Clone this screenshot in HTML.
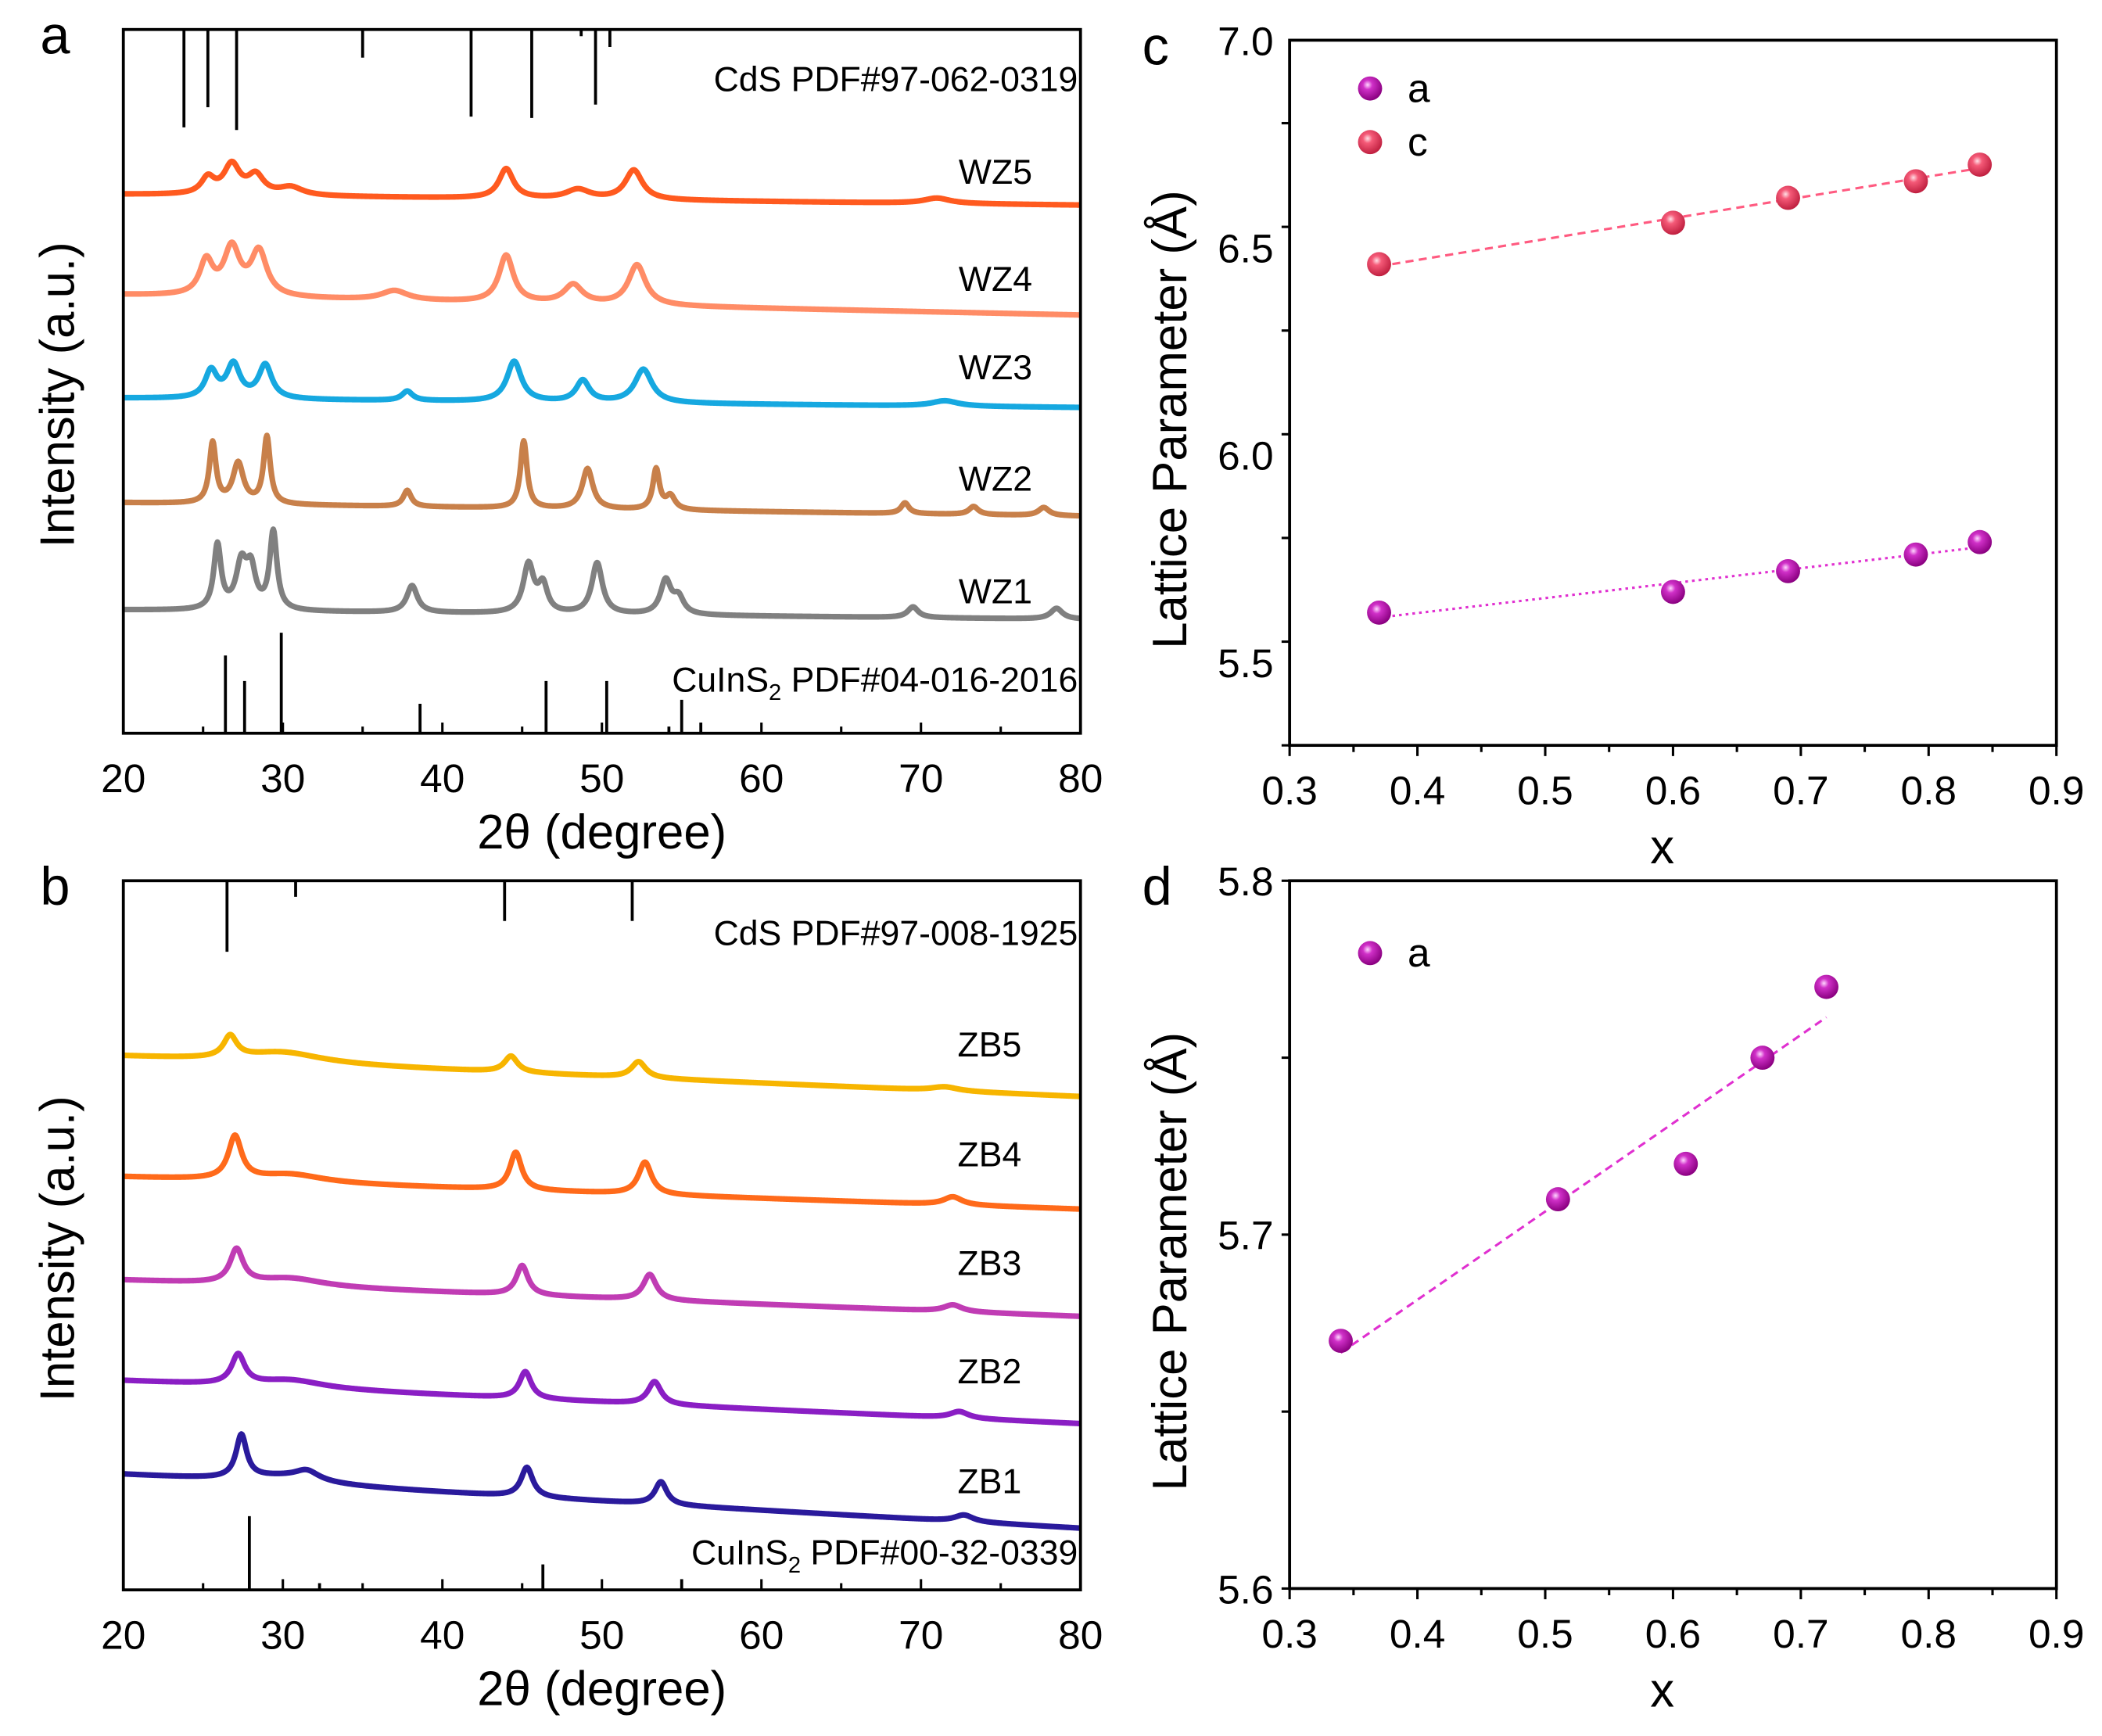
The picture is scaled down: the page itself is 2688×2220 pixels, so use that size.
<!DOCTYPE html>
<html><head><meta charset="utf-8"><style>
html,body{margin:0;padding:0;background:#fff;}
svg{display:block;font-family:"Liberation Sans",sans-serif;}
</style></head><body>
<svg id="fig" width="2688" height="2220" viewBox="0 0 1568 1295" preserveAspectRatio="none" xmlns="http://www.w3.org/2000/svg">
<defs>
<radialGradient id="gA" cx="0.4" cy="0.35" r="0.65"><stop offset="0" stop-color="#ffd8ff"/><stop offset="0.3" stop-color="#d030c8"/><stop offset="1" stop-color="#8a0080"/></radialGradient>
<radialGradient id="gC" cx="0.4" cy="0.35" r="0.65"><stop offset="0" stop-color="#ffe0e6"/><stop offset="0.3" stop-color="#f55a78"/><stop offset="1" stop-color="#c02040"/></radialGradient>
</defs>
</svg>
<script>
// ---------- DATA ----------
const wzNames=["WZ5","WZ4","WZ3","WZ2","WZ1"];
const wzColors=["#ff5a1f","#ff8c66","#16a8e0","#c8804a","#808080"];
const wzBase=[[145,153],[220,235],[297,304],[375,385],[455,462]];
const wzLabelY=[137,217,283,366,450];
const wzPeaks=[
 [[25.3,12,1],[26.8,22,1.2],[28.3,14,1.2],[30.5,6,1.8],[44,22,1.1],[48.5,7,1.8],[52,22,1.3],[71,4,2]],
 [[25.2,25,1],[26.8,35,1.2],[28.5,33,1.2],[37,7,2],[44,35,1.1],[48.2,14,1.4],[52.2,30,1.3]],
 [[25.5,20,0.9],[26.9,25,1],[28.9,25,1],[37.8,7,0.8],[44.5,30,1.1],[48.8,16,1],[52.6,25,1.3],[71.5,4,2]],
 [[25.6,45,0.5],[27.2,30,0.8],[29,50,0.5],[37.8,12,0.6],[45.1,50,0.5],[49.1,30,0.8],[53.4,30,0.5],[54.3,10,0.7],[69,8,0.6],[73.3,6,0.7],[77.7,6,0.8]],
 [[25.9,48,0.55],[27.4,33,0.8],[28,28,0.7],[29.4,58,0.55],[38.1,20,0.8],[45.4,36,0.8],[46.3,20,0.7],[49.7,38,0.8],[54,25,0.8],[54.8,12,0.8],[69.5,8,0.8],[78.5,8,0.9]]
];
const zbNames=["ZB5","ZB4","ZB3","ZB2","ZB1"];
const zbColors=["#f7b500","#ff6a1a","#c03cb4","#8a1ec4","#2a1a9c"];
const zbBase=[[788,818],[878,902],[955,982],[1030,1062],[1100,1140]];
const zbLabelY=[788,870,951,1032,1114];
const zbPeaks=[
 [[26.7,16,1],[30,8,6],[44.3,12,1],[52.3,12,1.1],[71.5,3,2]],
 [[27,32,1],[30.5,6,5],[44.6,28,0.9],[52.7,24,1],[72,6,1.4]],
 [[27.1,25,1],[30.5,6,5],[45,22,0.9],[53,19,1],[72,5,1.4]],
 [[27.2,22,1],[30.5,6,5],[45.2,20,0.9],[53.3,17,1],[72.4,5,1.4]],
 [[27.4,32,0.8],[31.5,7,1.8],[30,5,6],[45.3,22,0.9],[53.7,17,0.9],[72.7,5,1.4]]
];
const cdsWZ=[[23.8,73],[25.3,58],[27.1,75],[35,21],[41.8,65],[45.6,66],[48.7,5],[49.6,56],[50.5,13]];
const cisA=[[26.4,58],[27.6,39],[29.9,75],[38.6,22],[46.5,39],[50.3,39],[54.2,5],[55,25],[56.2,8]];
const cdsZB=[[26.5,53],[30.8,12],[43.9,30],[51.9,30]];
const cisB=[[27.9,55],[32.3,5],[46.3,19],[55,8]];
const xTicksXRD=[20,30,40,50,60,70,80];
const cX=[0.37,0.60,0.69,0.79,0.84];
const cA=[5.62,5.67,5.72,5.76,5.79];
const cC=[6.46,6.56,6.62,6.66,6.70];
const dX=[0.34,0.51,0.61,0.67,0.72];
const dA=[5.67,5.71,5.72,5.75,5.77];
const latXTicks=[0.3,0.4,0.5,0.6,0.7,0.8,0.9];
const cYTicks=[5.5,6.0,6.5,7.0];
const dYTicks=[5.6,5.7,5.8];

// ---------- HELPERS ----------
const NS="http://www.w3.org/2000/svg";
const svg=document.getElementById('fig');
function mk(tag,attrs,parent){const e=document.createElementNS(NS,tag);for(const k in attrs)e.setAttribute(k,attrs[k]);(parent||svg).appendChild(e);return e;}
function txt(s,x,y,size,anchor,parent,extra){const t=mk('text',Object.assign({x:x,y:y,'font-size':size,'text-anchor':anchor||'start',fill:'#000'},extra||{}),parent);t.textContent=s;return t;}

function xrdPanel(P,names,colors,bases,labelY,peaks,topSticks,botSticks,topLabel,botLabel,letter,tag){
  const g=mk('g',{});
  
  
  const sx=v=>P.x0+(v-20)/60*(P.x1-P.x0);
  names.forEach((n,i)=>{
    let d='';
    for(let k=0;k<=1200;k++){
      const t=20+k*0.05;
      let y=bases[i][0]+(bases[i][1]-bases[i][0])*(t-20)/60;
      peaks[i].forEach(p=>{y-=p[1]/(1+Math.pow((t-p[0])/(p[2]/2),2));});
      d+=(k?'L':'M')+sx(t).toFixed(2)+' '+y.toFixed(2);
    }
    const c=mk('path',{d:d,fill:'none',stroke:colors[i],'stroke-width':4.2,'stroke-linejoin':'round'},g);
    
    
    const l=txt(n,P.labelX,labelY[i],26,'end',g);
    
    
  });
  topSticks.forEach(s=>{const e=mk('line',{x1:sx(s[0]),x2:sx(s[0]),y1:P.y0,y2:P.y0+s[1],stroke:'#000','stroke-width':2.2},g);
    });
  botSticks.forEach(s=>{const e=mk('line',{x1:sx(s[0]),x2:sx(s[0]),y1:P.y1,y2:P.y1-s[1],stroke:'#000','stroke-width':2.2},g);
    });
  const tl=txt(topLabel,P.x1-2,P.topLabelY,26,'end',g);
  
  const bl=mk('text',{x:P.x1-2,y:P.botLabelY,'font-size':26,'text-anchor':'end',fill:'#000'},g);
  bl.innerHTML='CuInS<tspan font-size="17" dy="6">2</tspan><tspan dy="-6"> '+botLabel+'</tspan>';
  
  const fr=mk('rect',{x:P.x0,y:P.y0,width:P.x1-P.x0,height:P.y1-P.y0,fill:'none',stroke:'#000','stroke-width':2.2},g);
  
  for(let v=20;v<=80;v+=5){const major=v%10===0;mk('line',{x1:sx(v),x2:sx(v),y1:P.y1,y2:P.y1-(major?8:5),stroke:'#000','stroke-width':1.8},g);}
  xTicksXRD.forEach(v=>{const t=txt(String(v),sx(v),P.y1+44,30,'middle',g);});
  const xt=txt('2θ (degree)',(P.x0+P.x1)/2,P.y1+86,36,'middle',g);
  
  const cy=(P.y0+P.y1)/2+10;
  const yt=txt('Intensity (a.u.)',55,cy,36,'middle',g,{transform:'rotate(-90 55 '+cy+')'});
  
  const lt=txt(letter,30,P.y0+18,40,'start',g);
  
}

function latPanel(P,letter,yTicks,series,legendY,minorStep){
  const g=mk('g',{});
  
  
  const sx=v=>P.x0+(v-0.3)/0.6*(P.x1-P.x0);
  const sy=v=>P.y1-(v-P.ymin)/(P.ymax-P.ymin)*(P.y1-P.y0);
  const fr=mk('rect',{x:P.x0,y:P.y0,width:P.x1-P.x0,height:P.y1-P.y0,fill:'none',stroke:'#000','stroke-width':2.2},g);
  
  for(let v=0.3;v<=0.9001;v+=0.05){const major=Math.abs(v*10-Math.round(v*10))<0.01;mk('line',{x1:sx(v),x2:sx(v),y1:P.y1,y2:P.y1+(major?8:5),stroke:'#000','stroke-width':1.8},g);}
  for(let v=P.ymin;v<=P.ymax+1e-6;v+=minorStep){mk('line',{x1:P.x0,x2:P.x0-6,y1:sy(v),y2:sy(v),stroke:'#000','stroke-width':1.8},g);}
  latXTicks.forEach(v=>{const t=txt(v.toFixed(1),sx(v),P.y1+44,30,'middle',g);});
  yTicks.forEach(v=>{const t=txt(v.toFixed(1),P.x0-12,sy(v)+11,30,'end',g);});
  const xt=txt('x',(P.x0+P.x1)/2-8,P.y1+88,36,'middle',g);
  
  const cy=(P.y0+P.y1)/2+20;
  const yt=txt('Lattice Parameter (Å)',885,cy,36,'middle',g,{transform:'rotate(-90 885 '+cy+')'});
  
  const lt=txt(letter,852,P.y0+18,40,'start',g);
  
  series.forEach((s,si)=>{
    const n=s.x.length;let mx=0,my=0;s.x.forEach((v,i)=>{mx+=v;my+=s.y[i];});mx/=n;my/=n;
    let num=0,den=0;s.x.forEach((v,i)=>{num+=(v-mx)*(s.y[i]-my);den+=(v-mx)*(v-mx);});
    const b=num/den,a0=my-b*mx;const xa=Math.min(...s.x),xb=Math.max(...s.x);
    const fl=mk('line',{x1:sx(xa),y1:sy(a0+b*xa),x2:sx(xb),y2:sy(a0+b*xb),stroke:s.line,'stroke-width':1.8,'stroke-dasharray':s.dash},g);
    
    s.x.forEach((v,i)=>{const c=mk('circle',{cx:sx(v),cy:sy(s.y[i]),r:9,fill:s.grad},g);
      });
    const lc=mk('circle',{cx:P.x0+60,cy:legendY+si*40,r:9,fill:s.grad},g);
    
    const lx=txt(s.name,P.x0+88,legendY+si*40+10,30,'start',g);
    
  });
}

xrdPanel({x0:92,x1:806,y0:22,y1:547,labelX:770,topLabelY:68,botLabelY:516},wzNames,wzColors,wzBase,wzLabelY,wzPeaks,cdsWZ,cisA,'CdS PDF#97-062-0319','PDF#04-016-2016','a','a');
xrdPanel({x0:92,x1:806,y0:657,y1:1186,labelX:762,topLabelY:705,botLabelY:1167},zbNames,zbColors,zbBase,zbLabelY,zbPeaks,cdsZB,cisB,'CdS PDF#97-008-1925','PDF#00-32-0339','b','b');
latPanel({x0:962,x1:1534,y0:30,y1:556,ymin:5.3,ymax:7.0},'c',cYTicks,[
  {name:'a',x:cX,y:cA,grad:'url(#gA)',line:'#e030d0',dash:'2 3'},
  {name:'c',x:cX,y:cC,grad:'url(#gC)',line:'#ff5a80',dash:'6 4'}],66,0.25);
latPanel({x0:962,x1:1534,y0:657,y1:1185,ymin:5.6,ymax:5.8},'d',dYTicks,[
  {name:'a',x:dX,y:dA,grad:'url(#gA)',line:'#e030d0',dash:'6 4'}],711,0.05);
</script>
</body></html>
